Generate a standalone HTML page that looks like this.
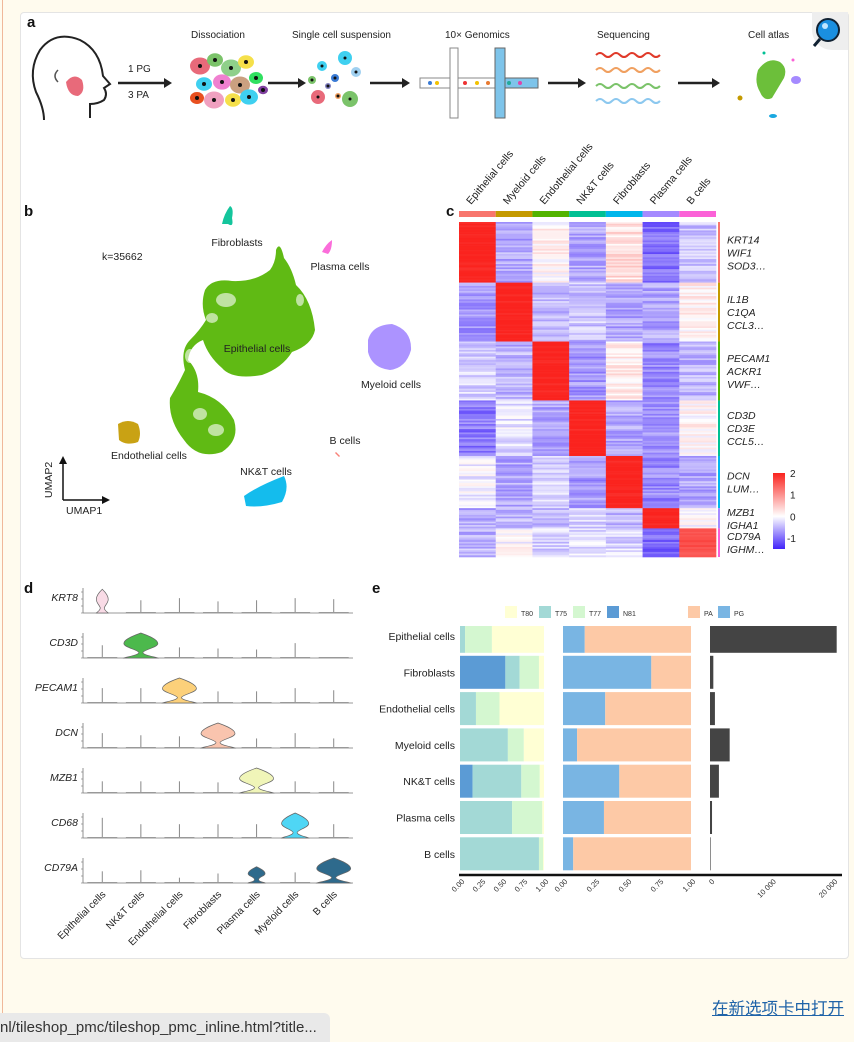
<!DOCTYPE html>
<html><head><meta charset="utf-8">
<style>
html,body{margin:0;padding:0;width:854px;height:1042px;overflow:hidden;background:#fffbee;font-family:"Liberation Sans","Noto Sans CJK SC",sans-serif;}
#leftline{position:absolute;left:2px;top:0;width:1px;height:1042px;background:#f0b89a;}
#card{position:absolute;left:20px;top:12px;width:827px;height:945px;background:#fff;border:1px solid #e4e4e4;border-radius:4px;}
#fig{position:absolute;left:0;top:0;}
#open{position:absolute;left:712px;top:995px;font-size:16.5px;color:#1f63a8;text-decoration:underline;font-family:"Liberation Sans","Noto Sans CJK SC",sans-serif;}
#status{position:absolute;left:0;top:1013px;width:330px;height:29px;background:#e9e9e9;border-top-right-radius:6px;font-size:15px;color:#333;line-height:29px;white-space:nowrap;overflow:hidden;}
svg text{font-family:"Liberation Sans",sans-serif;}
</style></head><body>
<div id="leftline"></div>
<div id="card"></div>
<svg id="fig" width="854" height="1042">
  <g font-weight="bold" font-size="15" fill="#111">
    <text x="27" y="27">a</text>
    <text x="24" y="216">b</text>
    <text x="446" y="216">c</text>
    <text x="24" y="593">d</text>
    <text x="372" y="593">e</text>
  </g>
  <g>
    <path d="M812 12 h36 v38 h-16 a20 20 0 0 1 -20 -20 z" fill="#eee"/>
    <circle cx="828" cy="30" r="11" fill="#1a8fe0" stroke="#123" stroke-width="2"/>
    <circle cx="825" cy="26" r="3" fill="#bfe6ff"/>
    <line x1="820" y1="39" x2="814" y2="46" stroke="#123" stroke-width="3"/>
  </g>
  <g id="panelA" font-size="10" fill="#222">
    <path d="M90 118 L90 104 Q98 104 104 100 Q108 94 104 88 L110 84 L103 76 Q100 50 80 40 Q55 30 40 50 Q28 70 36 92 Q44 108 44 120" fill="none" stroke="#222" stroke-width="2"/>
    <path d="M66 82 Q74 72 82 80 Q86 92 78 96 Q68 96 66 82z" fill="#e86a7a"/>
    <path d="M58 70 q-6 6 0 12" fill="none" stroke="#555" stroke-width="1.5"/>
    <text x="128" y="72">1 PG</text>
    <text x="128" y="98">3 PA</text>
    <text x="191" y="38">Dissociation</text>
    <text x="292" y="38">Single cell suspension</text>
    <text x="445" y="38">10×  Genomics</text>
    <text x="597" y="38">Sequencing</text>
    <text x="748" y="38">Cell atlas</text>
    <g id="arrowsA" stroke="#222" stroke-width="2.5" fill="#222"></g>
    <g id="cellsA"></g>
    <g>
      <rect x="420" y="78" width="118" height="10" fill="#fff" stroke="#888"/>
      <rect x="450" y="48" width="8" height="70" fill="#fff" stroke="#888"/>
      <rect x="495" y="48" width="10" height="70" fill="#7ec4ea" stroke="#666"/>
      <rect x="505" y="78" width="33" height="10" fill="#7ec4ea" stroke="#666"/>
      <circle cx="430" cy="83" r="2" fill="#3a7bd5"/><circle cx="437" cy="83" r="2" fill="#f2c200"/><circle cx="465" cy="83" r="2" fill="#e33"/><circle cx="477" cy="83" r="2" fill="#f2c200"/><circle cx="488" cy="83" r="2" fill="#e87a30"/><circle cx="509" cy="83" r="2" fill="#2a9"/><circle cx="520" cy="83" r="2" fill="#d4a"/>
    </g>
    <g fill="none" stroke-width="2">
      <path d="M596 55 q4 -4 8 0 t8 0 t8 0 t8 0 t8 0 t8 0 t8 0 t8 0" stroke="#e03a2a"/>
      <path d="M596 70 q4 -4 8 0 t8 0 t8 0 t8 0 t8 0 t8 0 t8 0 t8 0" stroke="#f0a060"/>
      <path d="M596 86 q4 -4 8 0 t8 0 t8 0 t8 0 t8 0 t8 0 t8 0 t8 0" stroke="#7bc36a"/>
      <path d="M596 101 q4 -4 8 0 t8 0 t8 0 t8 0 t8 0 t8 0 t8 0 t8 0" stroke="#8cc8ef"/>
    </g>
    <g>
      <path d="M758 70 q10 -14 22 -8 q8 6 4 16 q-6 10 -12 20 q-8 4 -12 -6 q-6 -10 -2 -22z" fill="#6cbf3a"/>
      <ellipse cx="796" cy="80" rx="5" ry="4" fill="#a58aff"/>
      <ellipse cx="773" cy="116" rx="4" ry="2" fill="#1aa8e0"/>
      <circle cx="740" cy="98" r="2.5" fill="#c49a00"/>
      <circle cx="764" cy="53" r="1.5" fill="#00c094"/><circle cx="793" cy="60" r="1.5" fill="#fb61d7"/>
    </g>
  </g>
  <g id="panelB"></g>
  <g id="panelC"></g>
  <g id="panelD"></g>
  <g id="panelE"></g>
</svg>
<div id="open">在新选项卡中打开</div>
<div id="status">nl/tileshop_pmc/tileshop_pmc_inline.html?title...</div>
<script>
const NS='http://www.w3.org/2000/svg';
function mk(tag,attrs,parent,txt){const e=document.createElementNS(NS,tag);for(const k in attrs)e.setAttribute(k,attrs[k]);if(txt!==undefined)e.textContent=txt;parent.appendChild(e);return e;}

const arrowSpans=[[118,172],[268,306],[370,410],[548,586],[678,720]];
const gA=document.getElementById('arrowsA');
arrowSpans.forEach(s=>{
  const l=mk('line',{x1:s[0],y1:83,x2:s[1]-6,y2:83},gA);
  
  
  mk('path',{d:`M${s[1]} 83 l-8 -5 v10 z`,stroke:'none'},gA);
});
const cellsA=document.getElementById('cellsA');
const dissCells=[[200,66,10,'#e86a7a'],[215,60,8,'#7bc36a'],[231,68,10,'#8fd08a'],[246,62,8,'#f5e04a'],[204,84,8,'#3fd0f0'],[222,82,9,'#f080d0'],[240,85,10,'#caa080'],[256,78,7,'#30e060'],[197,98,7,'#e85020'],[214,100,10,'#f0a0c0'],[233,100,8,'#f5e04a'],[249,97,9,'#3fd0f0'],[263,90,5,'#8040a0']];
dissCells.forEach(c=>{const e=mk('ellipse',{cx:c[0],cy:c[1],rx:c[2],ry:c[2]*0.85,fill:c[3]},cellsA);mk('circle',{cx:c[0],cy:c[1],r:2,fill:'#111'},cellsA);});
const suspCells=[[322,66,5,'#3fd0f0'],[345,58,7,'#3fd0f0'],[312,80,4,'#7bc36a'],[335,78,4,'#3a7bd5'],[356,72,5,'#a0d0f0'],[318,97,7,'#e86a7a'],[338,96,3,'#f0a060'],[350,99,8,'#7bc36a'],[328,86,3,'#8080c0']];
suspCells.forEach(c=>{const e=mk('ellipse',{cx:c[0],cy:c[1],rx:c[2],ry:c[2],fill:c[3]},cellsA);mk('circle',{cx:c[0],cy:c[1],r:1.5,fill:'#111'},cellsA);});

const gB=document.getElementById('panelB');
const clusterNames=['Epithelial cells','Fibroblasts','Plasma cells','Myeloid cells','Endothelial cells','NK&T cells','B cells'];
const clusterColors=['#53b400','#00c094','#fb61d7','#a58aff','#c49a00','#00b6eb','#f8766d'];
const umapShapes=[
 'M205 290 Q212 278 232 281 Q255 282 270 270 Q276 262 276 250 Q280 240 284 258 Q292 268 296 285 Q312 300 315 330 Q312 345 292 352 Q282 368 262 375 Q232 380 222 368 Q208 356 203 340 Q190 345 188 360 Q200 372 198 392 Q222 398 234 420 Q240 440 222 452 Q198 460 184 440 Q168 420 170 398 Q178 385 185 370 Q180 350 190 340 Q200 330 206 320 Q200 305 205 290Z',
 'M222 224 Q224 214 230 206 Q234 208 232 218 Q234 228 228 224Z',
 'M322 252 Q326 244 332 240 Q332 250 328 254Z',
 'M368 340 Q372 325 392 324 Q412 330 411 350 Q406 368 390 370 Q372 368 368 352Z',
 'M118 424 Q128 418 138 424 Q142 434 138 442 Q126 446 119 440Z',
 'M244 496 Q258 486 284 476 Q290 488 282 502 Q262 508 246 506Z',
 'M336 452 L340 456 L339 457 L335 453Z'
];
umapShapes.forEach((d,i)=>{
  const p=mk('path',{d:d,fill:clusterColors[i],opacity:0.92},gB);
  
  
});
[[226,300,10,7],[212,318,6,5],[200,414,7,6],[216,430,8,6],[190,356,5,7],[300,300,4,6]].forEach(h=>mk('ellipse',{cx:h[0],cy:h[1],rx:h[2],ry:h[3],fill:'#fff',opacity:0.6},gB));
const umapLabels=[['Fibroblasts',237,246,'middle'],['k=35662',102,260,'start'],['Plasma cells',340,270,'middle'],['Epithelial cells',257,352,'middle'],['Myeloid cells',391,388,'middle'],['B cells',345,444,'middle'],['Endothelial cells',149,459,'middle'],['NK&T cells',266,475,'middle']];
umapLabels.forEach(l=>{const t=mk('text',{x:l[1],y:l[2],'font-size':10.5,'text-anchor':l[3],fill:'#222'},gB,l[0]);});
mk('path',{d:'M63 500 V462 M63 500 H104',stroke:'#111','stroke-width':1.5,fill:'none'},gB);
mk('path',{d:'M59 464 L63 456 L67 464Z M102 496 L110 500 L102 504Z',fill:'#111'},gB);
const u1=mk('text',{x:66,y:514,'font-size':10.5,fill:'#222'},gB,'UMAP1');
const u2=mk('text',{x:0,y:0,'font-size':10.5,fill:'#222',transform:'translate(52,498) rotate(-90)'},gB,'UMAP2');

const gC=document.getElementById('panelC');
const hmCols=['Epithelial cells','Myeloid cells','Endothelial cells','NK&T cells','Fibroblasts','Plasma cells','B cells'];
const hmColColors=['#f8766d','#c49a00','#53b400','#00c094','#00b6eb','#a58aff','#fb61d7'];
const hmGroupRows=[36,35,35,33,31,12,17];
const hmMeans=[
 [2.0,-0.6,0.1,-0.6,0.3,-1.0,-0.4],
 [-0.7,2.0,-0.5,-0.4,-0.6,-0.6,0.1],
 [-0.3,-0.5,2.0,-0.7,0.2,-0.8,-0.5],
 [-0.9,-0.2,-0.6,2.0,-0.6,-0.7,0.1],
 [-0.1,-0.6,-0.3,-0.7,2.0,-0.8,-0.6],
 [-0.6,-0.5,-0.5,-0.3,-0.5,2.0,0.0],
 [-0.5,0.0,-0.3,-0.2,-0.3,-1.0,1.6]];
const hmGenes=[['KRT14','WIF1','SOD3…'],['IL1B','C1QA','CCL3…'],['PECAM1','ACKR1','VWF…'],['CD3D','CD3E','CCL5…'],['DCN','LUM…'],['MZB1','IGHA1'],['CD79A','IGHM…']];
const hmTicks=[2,1,0,-1];
const hmX0=459,hmW=257,hmY0=222,hmH=335;
const colW=hmW/hmCols.length;
const totalRows=hmGroupRows.reduce((a,b)=>a+b,0);
const rowH=hmH/totalRows;
function hmColor(v){v=Math.max(-1.5,Math.min(2,v));let r,g,b;
 if(v<0){const t=-v/1.5;r=255-190*t;g=255-220*t;b=255-5*t;}else{const t=v/2;r=255-5*t;g=255-220*t;b=255-225*t;}
 return `rgb(${r|0},${g|0},${b|0})`;}
function texture(i,j){const s=Math.sin(i*12.9898+j*78.233)*43758.5453;return (s-Math.floor(s))-0.5;}
let rIdx=0;
hmGroupRows.forEach((n,gi)=>{
  for(let k=0;k<n;k++){
    hmCols.forEach((c,ci)=>{
      const m=hmMeans[gi][ci];
      const v=m+texture(rIdx,ci)*(m>1.5?0.25:0.55);
      const r=mk('rect',{x:hmX0+ci*colW,y:hmY0+rIdx*rowH,width:colW+0.3,height:rowH+0.3,fill:hmColor(v)},gC);
      
      
    });
    rIdx++;
  }
});
hmCols.forEach((c,ci)=>{
  const b=mk('rect',{x:hmX0+ci*colW,y:211,width:colW,height:6,fill:hmColColors[ci]},gC);
  
  
  const t=mk('text',{x:0,y:0,'font-size':10.5,fill:'#222',transform:`translate(${hmX0+ci*colW+12},205) rotate(-50)`},gC,c);
  
  
});
let acc=0;
hmGroupRows.forEach((n,gi)=>{
  const y=hmY0+acc*rowH,h=n*rowH;
  const s=mk('rect',{x:718,y:y,width:2,height:h,fill:hmColColors[gi]},gC);
  
  
  const genes=hmGenes[gi];const lh=13;const start=y+h/2-(genes.length-1)*lh/2+4;
  genes.forEach((g,k)=>{const t=mk('text',{x:727,y:start+k*lh,'font-size':10.5,'font-style':'italic',fill:'#222'},gC,g);});
  acc+=n;
});
const defs=mk('defs',{},gC);
const lg=mk('linearGradient',{id:'hmgrad',x1:0,y1:1,x2:0,y2:0},defs);
[[0,-1.5],[0.43,0],[1,2]].forEach(s=>mk('stop',{offset:s[0],'stop-color':hmColor(s[1])},lg));
const legY0=549,legY1=473;
const cl=mk('rect',{x:773,y:legY1,width:12,height:legY0-legY1,fill:'url(#hmgrad)'},gC);


function legY(v){return legY0-(v+1.5)/3.5*(legY0-legY1);}
hmTicks.forEach(v=>{const t=mk('text',{x:v<0?787:790,y:legY(v)+4,'font-size':10,fill:'#222'},gC,String(v));});

const gD=document.getElementById('panelD');
const vGenes=['KRT8','CD3D','PECAM1','DCN','MZB1','CD68','CD79A'];
const vCells=['Epithelial cells','NK&T cells','Endothelial cells','Fibroblasts','Plasma cells','Myeloid cells','B cells'];
const vColors=['#f9dbe6','#4cb94c','#fcd07a','#f9c4ae','#f0f5b8','#4fd6f5','#2e6a8c'];
const vHeights=[
 [0.95,0.6,0.7,0.55,0.6,0.7,0.65],
 [0.6,1.0,0.5,0.45,0.4,0.7,0.0],
 [0.7,0.7,1.0,0.55,0.55,0.7,0.6],
 [0.7,0.6,0.55,1.0,0.45,0.7,0.45],
 [0.55,0.55,0.55,0.5,1.0,0.55,0.55],
 [0.95,0.65,0.65,0.65,0.65,1.0,0.65],
 [0.55,0.6,0.25,0.45,0.65,0.5,1.0]];
const vWidths=[
 [0.35,0,0,0,0,0,0],
 [0,1,0,0,0,0,0],
 [0,0,1,0,0,0,0],
 [0,0,0,1,0,0,0],
 [0,0,0,0,1,0,0],
 [0,0,0,0,0,0.8,0],
 [0,0,0,0,0.5,0,1]];
const vx0=83,vx1=353,vRow0=613,vRowStep=45,vRowH=25;
const vColStep=(vx1-vx0)/vCells.length;
function vxc(ci){return vx0+vColStep*(ci+0.5);}
function vyb(ri){return vRow0+ri*vRowStep;}
vGenes.forEach((g,ri)=>{
  const yb=vyb(ri);
  mk('line',{x1:vx0,y1:yb-vRowH,x2:vx0,y2:yb,stroke:'#777','stroke-width':0.8},gD);
  for(let k=0;k<4;k++)mk('line',{x1:vx0-2,y1:yb-k*7,x2:vx0,y2:yb-k*7,stroke:'#777','stroke-width':0.6},gD);
  mk('line',{x1:vx0,y1:yb,x2:vx1,y2:yb,stroke:'#777','stroke-width':0.8},gD);
  const t=mk('text',{x:78,y:yb-12,'font-size':10.5,'font-style':'italic','text-anchor':'end',fill:'#222'},gD,g);
  
  
  vCells.forEach((c,ci)=>{
    const x=vxc(ci),h=vHeights[ri][ci]*vRowH,w=vWidths[ri][ci]*17;
    if(w<=0){
      const s=mk('line',{x1:x,y1:yb,x2:x,y2:yb-h*0.85,stroke:'#888','stroke-width':1},gD);
      
      
      mk('line',{x1:x-15,y1:yb-0.5,x2:x+15,y2:yb-0.5,stroke:'#999','stroke-width':1},gD);
    } else {
      const top=yb-h,mid=yb-h*0.58,neck=yb-h*0.22;
      const d=`M${x} ${top} C${x+w*0.5} ${top+h*0.12} ${x+w} ${mid-h*0.16} ${x+w} ${mid} C${x+w} ${mid+h*0.16} ${x+3} ${neck-3} ${x+2} ${neck} C${x+2} ${neck+3} ${x+w*0.9} ${yb-1} ${x+w} ${yb} L${x-w} ${yb} C${x-w*0.9} ${yb-1} ${x-2} ${neck+3} ${x-2} ${neck} C${x-3} ${neck-3} ${x-w} ${mid+h*0.16} ${x-w} ${mid} C${x-w} ${mid-h*0.16} ${x-w*0.5} ${top+h*0.12} ${x} ${top}Z`;
      const v=mk('path',{d:d,fill:vColors[ri],stroke:'#666','stroke-width':0.7},gD);
      
      
    }
  });
});
vCells.forEach((c,ci)=>{
  const t=mk('text',{x:0,y:0,'font-size':10,'text-anchor':'end',fill:'#222',transform:`translate(${vxc(ci)+4},${vyb(6)+12}) rotate(-45)`},gD,c);
  
  
});

const gE=document.getElementById('panelE');
const eCells=['Epithelial cells','Fibroblasts','Endothelial cells','Myeloid cells','NK&T cells','Plasma cells','B cells'];
const sampleNames=['N81','T75','T77','T80'];
const sampleColors=['#5b9bd5','#a3d9d6','#d4f7d0','#ffffd4'];
const sN81=[0,0.54,0,0,0.15,0,0];
const sT75=[0.06,0.17,0.19,0.57,0.58,0.62,0.94];
const sT77=[0.32,0.23,0.28,0.19,0.22,0.36,0.05];
const sT80=[0.62,0.06,0.53,0.24,0.05,0.02,0.01];
const tissueNames=['PG','PA'];
const tissueColors=['#79b5e3','#fdc9a6'];
const tPG=[0.17,0.69,0.33,0.11,0.44,0.32,0.08];
const tPA=[0.83,0.31,0.67,0.89,0.56,0.68,0.92];
const cellCounts=[20600,540,800,3200,1450,330,60];
const fracTicks=['0.00','0.25','0.50','0.75','1.00'];
const countTicks=[0,10000,20000];
const countTickLabels=['0','10 000','20 000'];
const rowY0=618,rowStep=36.3,barH=33;
function rowTop(i){return rowY0+i*rowStep+1.5;}
const L={x0:460,w:84},M={x0:563,w:128},R={x0:710,max:20000,w:123};
function xL(v){return L.x0+v*L.w;}
function xM(v){return M.x0+v*M.w;}
function xR(v){return R.x0+v/R.max*R.w;}
const stacks=[sN81,sT75,sT77,sT80];
eCells.forEach((c,i)=>{
  let top=rowTop(i),h=barH;
  if(i===0){top=626;h=rowTop(1)-3-626;}
  const t=mk('text',{x:455,y:rowTop(i)+barH/2+4,'font-size':10.5,'text-anchor':'end',fill:'#222'},gE,c);
  
  
  let a=0;
  stacks.forEach((s,si)=>{
    if(s[i]>0){
      const r=mk('rect',{x:xL(a),y:top,width:s[i]*L.w,height:h,fill:sampleColors[si]},gE);
      
      
    }
    a+=s[i];
  });
  const pg=mk('rect',{x:xM(0),y:top,width:tPG[i]*M.w,height:h,fill:tissueColors[0]},gE);
  
  
  const pa=mk('rect',{x:xM(tPG[i]),y:top,width:tPA[i]*M.w,height:h,fill:tissueColors[1]},gE);
  
  
  const cb=mk('rect',{x:xR(0),y:top,width:Math.max(0.6,xR(cellCounts[i])-xR(0)),height:h,fill:'#444'},gE);
  
  
});
const ax=mk('line',{x1:459,y1:875,x2:842,y2:875,stroke:'#111','stroke-width':2.5},gE);


fracTicks.forEach((lab,k)=>{
  const v=k/(fracTicks.length-1);
  [xL(v),xM(v)].forEach(x=>{
    const t=mk('text',{x:0,y:0,'font-size':7.5,'text-anchor':'end',fill:'#333',transform:`translate(${x+5},${882}) rotate(-45)`},gE,lab);
    
    
  });
});
countTicks.forEach((v,k)=>{
  const t=mk('text',{x:0,y:0,'font-size':7.5,'text-anchor':'end',fill:'#333',transform:`translate(${xR(v)+5},${882}) rotate(-45)`},gE,countTickLabels[k]);
  
  
});
const legOrder=[3,1,2,0];
const legX=[505,539,573,607];
legOrder.forEach((si,k)=>{
  const r=mk('rect',{x:legX[k],y:606,width:12,height:12,fill:sampleColors[si]},gE);
  
  
  const t=mk('text',{x:legX[k]+16,y:616,'font-size':7,fill:'#333'},gE,sampleNames[si]);
  
  
});
const tLegX=[718,688];
tissueNames.forEach((n,k)=>{
  const r=mk('rect',{x:tLegX[k],y:606,width:12,height:12,fill:tissueColors[k]},gE);
  
  
  const t=mk('text',{x:tLegX[k]+16,y:616,'font-size':7,fill:'#333'},gE,n);
  
  
});
</script>
</body></html>
